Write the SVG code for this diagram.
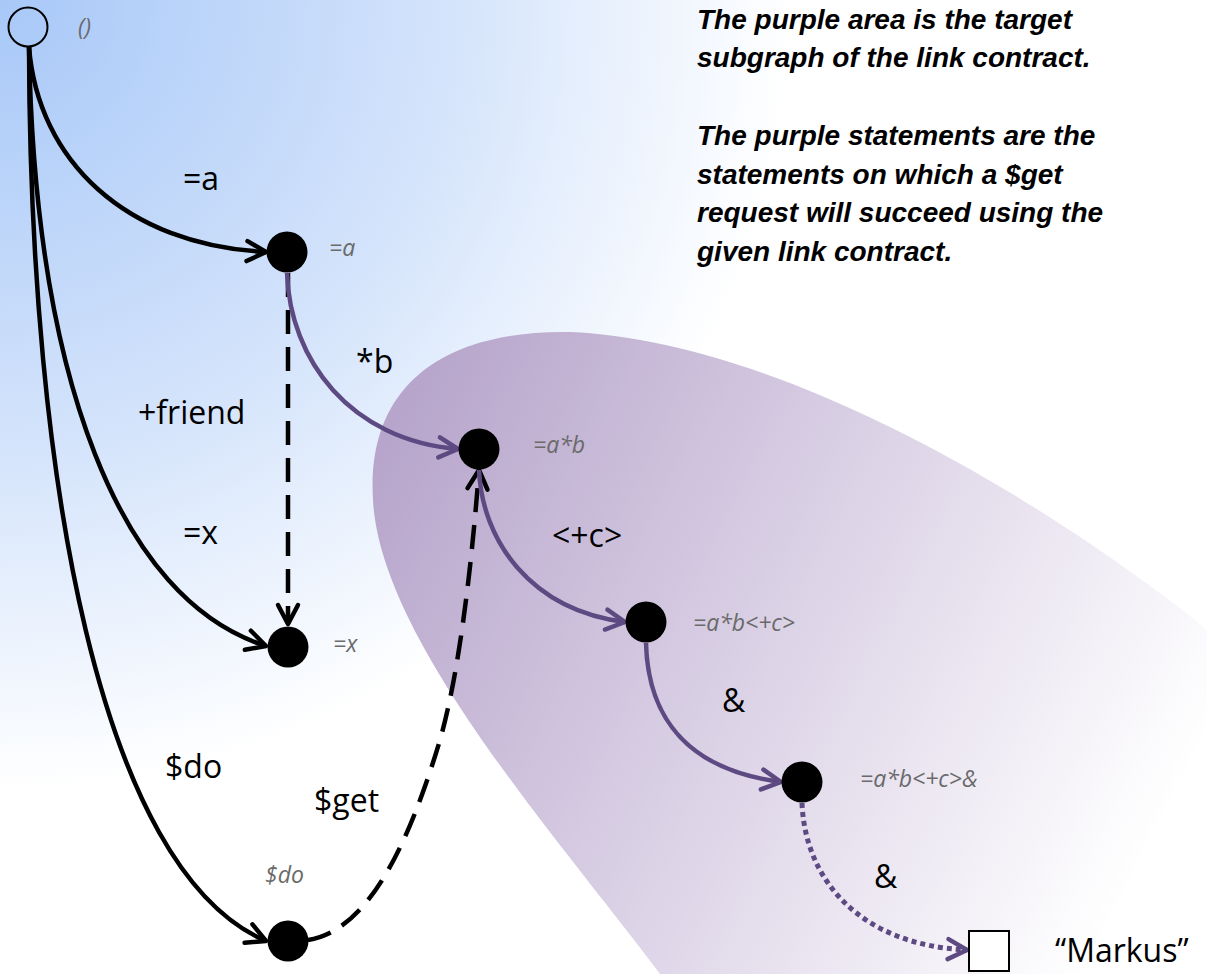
<svg xmlns="http://www.w3.org/2000/svg" width="1207" height="974" viewBox="0 0 1207 974">
<defs>
<radialGradient id="bg" gradientUnits="userSpaceOnUse" cx="0" cy="0" r="1100">
<stop offset="0" stop-color="#a8c8f8"/>
<stop offset="0.4" stop-color="#d3e3fb"/>
<stop offset="0.72" stop-color="#ffffff"/>
</radialGradient>
<linearGradient id="blob" gradientUnits="userSpaceOnUse" x1="380" y1="450" x2="1150" y2="850">
<stop offset="0" stop-color="#b7a5cb"/>
<stop offset="0.5" stop-color="#dbd2e6"/>
<stop offset="1" stop-color="#ffffff"/>
</linearGradient>
<marker id="ahb" markerUnits="userSpaceOnUse" viewBox="-24 -14 28 28" refX="0" refY="0" markerWidth="28" markerHeight="28" orient="auto" overflow="visible">
<path d="M-19,-10 L0,0 L-19,10" fill="none" stroke="#000" stroke-width="4.5" stroke-linecap="round" stroke-linejoin="round" stroke-dasharray="none"/>
</marker>
<marker id="ahp" markerUnits="userSpaceOnUse" viewBox="-24 -14 28 28" refX="0" refY="0" markerWidth="28" markerHeight="28" orient="auto" overflow="visible">
<path d="M-19,-10 L0,0 L-19,10" fill="none" stroke="#5e4a82" stroke-width="4.5" stroke-linecap="round" stroke-linejoin="round" stroke-dasharray="none"/>
</marker>
<style>
.blk{fill:none;stroke:#000;stroke-width:4.5;marker-end:url(#ahb)}
.pur{fill:none;stroke:#5e4a82;stroke-width:4.5;marker-end:url(#ahp)}
.dash{stroke-dasharray:24 13}
.dot{stroke-dasharray:5 4;stroke-width:5}
.dotn{fill:#000}
.nl{font-family:"Open Sans",sans-serif;font-style:italic;font-size:23px;fill:#6a6a6a}
.el{font-family:"Open Sans",sans-serif;font-size:32px;fill:#000}
.note{font-family:"Liberation Sans",Arial,sans-serif;font-style:italic;font-weight:bold;font-size:28px;fill:#000}
</style>
</defs>
<rect x="0" y="0" width="1207" height="974" fill="url(#bg)"/>
<path id="target-area" d="M660,974 C560,840 380,640 373,500 C366,380 450,330 570,332 C760,340 1000,470 1185,612 L1207,630 L1207,974 Z" fill="url(#blob)"/>
<g id="connectors">
<path class="blk" d="M29,47 C38,160 125,245 266,252"/>
<path class="blk" d="M29,47 C35,380 120,600 266,646"/>
<path class="blk" d="M29,47 C30,480 100,870 266,941"/>
<path class="blk dash" d="M288,273 L288,624"/>
<path class="pur" d="M287,273 C290,360 350,440 458,449"/>
<path class="blk dash" d="M308,940 C370,930 410,840 440,740 C460,670 472,560 479,470"/>
<path class="pur" d="M479,470 C482,540 530,610 625,622"/>
<path class="pur" d="M646,643 C648,720 690,770 781,782"/>
<path class="pur dot" d="M802,803 C805,880 860,945 967,950"/>
</g>
<g id="edge-labels">
<text class="el" x="183" y="190">=a</text>
<text class="el" x="356" y="373">*b</text>
<text class="el" x="138" y="424">+friend</text>
<text class="el" x="183" y="544">=x</text>
<text class="el" x="552" y="547">&lt;+c&gt;</text>
<text class="el" x="722" y="712">&amp;</text>
<text class="el" x="165" y="778">$do</text>
<text class="el" x="314" y="812">$get</text>
<text class="el" x="874" y="888">&amp;</text>
</g>
<g id="node-root">
<circle cx="28" cy="27" r="19.5" fill="none" stroke="#000" stroke-width="2"/>
<text class="nl" x="78" y="35">()</text>
</g>
<g id="node-a">
<circle class="dotn" cx="287" cy="252" r="20.5"/>
<text class="nl" x="329" y="256">=a</text>
</g>
<g id="node-ab">
<circle class="dotn" cx="479" cy="449" r="20.5"/>
<text class="nl" x="533" y="453">=a*b</text>
</g>
<g id="node-x">
<circle class="dotn" cx="288" cy="647" r="20.5"/>
<text class="nl" x="333" y="652">=x</text>
</g>
<g id="node-abc">
<circle class="dotn" cx="646" cy="622" r="20.5"/>
<text class="nl" x="693" y="631">=a*b&lt;+c&gt;</text>
</g>
<g id="node-abcamp">
<circle class="dotn" cx="802" cy="782" r="20.5"/>
<text class="nl" x="860" y="787">=a*b&lt;+c&gt;&amp;</text>
</g>
<g id="node-do">
<circle class="dotn" cx="288" cy="941" r="20.5"/>
<text class="nl" x="265" y="883">$do</text>
</g>
<g id="node-markus">
<rect x="969" y="931" width="40" height="40" fill="#fff" stroke="#000" stroke-width="2"/>
<text class="el" x="1055" y="962" font-size="33">“Markus”</text>
</g>
<g id="note">
<text class="note" x="697" y="29">The purple area is the target</text>
<text class="note" x="697" y="67">subgraph of the link contract.</text>
<text class="note" x="697" y="145">The purple statements are the</text>
<text class="note" x="697" y="184">statements on which a $get</text>
<text class="note" x="697" y="222">request will succeed using the</text>
<text class="note" x="697" y="261">given link contract.</text>
</g>
</svg>
